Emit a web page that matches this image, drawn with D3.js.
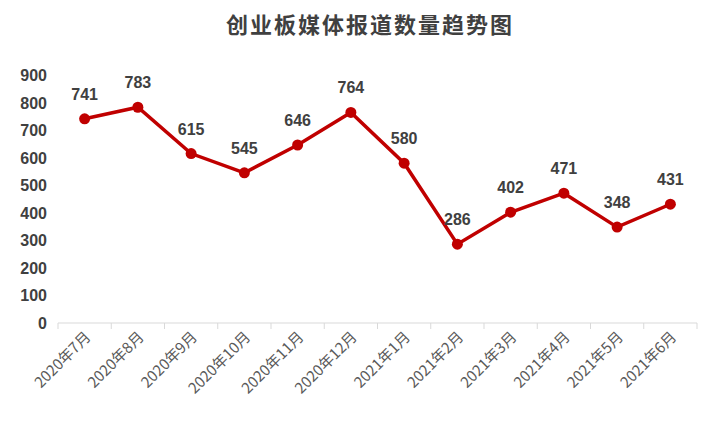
<!DOCTYPE html>
<html><head><meta charset="utf-8">
<script src="https://cdn.jsdelivr.net/npm/d3@7"></script>
<style>body{margin:0;background:#fff}</style>
</head><body>
<div id="chart"></div>
<script>
const months = ["2020年7月","2020年8月","2020年9月","2020年10月","2020年11月","2020年12月","2021年1月","2021年2月","2021年3月","2021年4月","2021年5月","2021年6月"];
const reports = [741,783,615,545,646,764,580,286,402,471,348,431];
const yTicks = [0,100,200,300,400,500,600,700,800,900];

const svg = d3.select("#chart").append("svg").attr("width",720).attr("height",432);
const x = d3.scaleBand().domain(months).range([58,697]);
const y = d3.scaleLinear().domain([0,900]).range([323,75]);

svg.append("text").attr("x",370).attr("y",33).attr("text-anchor","middle")
  .style("font-family","'Noto Sans CJK SC'").style("font-weight","bold").style("font-size","22px")
  .style("letter-spacing","2px")
  .attr("fill","#404040").text("创业板媒体报道数量趋势图");

svg.append("line").attr("x1",58).attr("x2",697).attr("y1",y(0)).attr("y2",y(0)).attr("stroke","#d9d9d9");
months.forEach(m=>{
  svg.append("line").attr("x1",x(m)).attr("x2",x(m)).attr("y1",323).attr("y2",329).attr("stroke","#d9d9d9");
});
svg.append("line").attr("x1",697).attr("x2",697).attr("y1",323).attr("y2",329).attr("stroke","#d9d9d9");

svg.selectAll(".yt").data(yTicks).enter().append("text")
  .attr("x",47).attr("y",d=>y(d)+6).attr("text-anchor","end")
  .style("font-family","Arial, 'Liberation Sans'").style("font-weight","bold").style("font-size","16px")
  .attr("fill","#404040").text(d=>d);

svg.selectAll(".xt").data(months).enter().append("text")
  .attr("transform",d=>`translate(${x(d)+x.bandwidth()/2+7},${338}) rotate(-45)`)
  .attr("text-anchor","end")
  .style("font-family","'Noto Sans CJK SC'").style("font-size","15px")
  .attr("fill","#595959").text(d=>d);

const cx = (d,i)=>x(months[i])+x.bandwidth()/2;
svg.append("path").datum(reports)
  .attr("d",d3.line().x(cx).y(d=>y(d)))
  .attr("fill","none").attr("stroke","#C00000").attr("stroke-width",3.5);
svg.selectAll(".pt").data(reports).enter().append("circle")
  .attr("cx",cx).attr("cy",d=>y(d)).attr("r",5.5).attr("fill","#C00000");
svg.selectAll(".lb").data(reports).enter().append("text")
  .attr("x",cx).attr("y",d=>y(d)-19).attr("text-anchor","middle")
  .style("font-family","Arial, 'Liberation Sans'").style("font-weight","bold").style("font-size","16px")
  .attr("fill","#404040").text(d=>d);
</script>
</body></html>
